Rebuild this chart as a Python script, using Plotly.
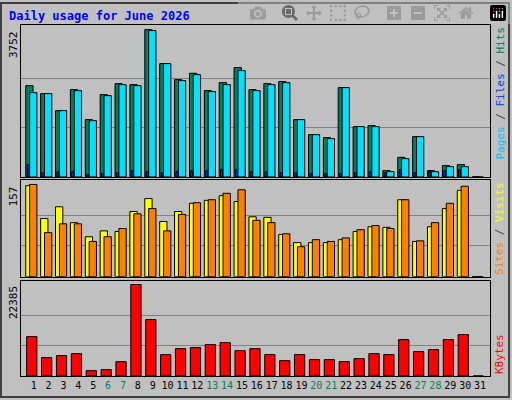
import plotly.graph_objs as go

days = list(range(1, 32))
hits = [2325, 2122, 1689, 2224, 1460, 2096, 2376, 2351, 3752, 2886, 2478, 2640, 2198, 2402, 2784, 2224, 2376, 2428, 1460, 1078, 1002, 2275, 1282, 1307, 161, 501, 1027, 161, 289, 314, 0]
files = [2147, 2122, 1689, 2198, 1434, 2071, 2351, 2325, 3727, 2886, 2453, 2606, 2173, 2351, 2708, 2198, 2351, 2402, 1460, 1078, 976, 2275, 1282, 1282, 136, 467, 1027, 136, 263, 263, 0]
pages = [314, 110, 136, 136, 59, 85, 110, 161, 136, 110, 136, 161, 161, 187, 187, 136, 136, 110, 110, 85, 85, 85, 110, 136, 110, 187, 110, 161, 161, 187, 0]
sites = [155, 99, 119, 92, 68, 78, 77, 111, 133, 94, 111, 125, 130, 138, 128, 102, 101, 72, 58, 58, 58, 63, 77, 85, 84, 131, 60, 85, 116, 147, 0]
visits = [157, 75, 90, 90, 60, 68, 82, 107, 116, 78, 106, 126, 131, 142, 148, 96, 92, 73, 51, 63, 60, 66, 80, 87, 82, 131, 61, 92, 125, 154, 0]
kbytes = [9641, 4493, 4984, 5474, 1307, 1552, 3513, 22385, 13807, 5229, 6700, 6945, 7680, 8170, 6209, 6700, 5229, 3758, 5229, 4003, 4003, 3513, 4248, 5474, 5229, 8905, 5964, 6454, 8905, 10131, 0]
weekend = [6, 7, 13, 14, 20, 21, 27, 28]

mono = "DejaVu Sans Mono"
edge = dict(color="black", width=1)

fig = go.Figure()
fig.add_trace(go.Bar(x=days, y=hits, offset=-0.53, width=0.49, marker=dict(color="#008060", line=edge), xaxis="x", yaxis="y"))
fig.add_trace(go.Bar(x=days, y=files, offset=-0.27, width=0.49, marker=dict(color="#00E0FF", line=edge), xaxis="x", yaxis="y"))
fig.add_trace(go.Bar(x=days, y=pages, offset=-0.44, width=0.13, marker=dict(color="#0040FF", line=edge), xaxis="x", yaxis="y"))
fig.add_trace(go.Bar(x=days, y=sites, offset=-0.53, width=0.49, marker=dict(color="#FFFF00", line=edge), xaxis="x2", yaxis="y2"))
fig.add_trace(go.Bar(x=days, y=visits, offset=-0.27, width=0.49, marker=dict(color="#FF8000", line=edge), xaxis="x2", yaxis="y2"))
fig.add_trace(go.Bar(x=days, y=kbytes, offset=-0.47, width=0.69, marker=dict(color="#FF0000", line=edge), xaxis="x3", yaxis="y3"))

ticktext = ["<span style='color:#00805C'>%d</span>" % d if d in weekend else str(d) for d in days]
xcommon = dict(range=[0.15, 31.67], showline=True, linecolor="black", linewidth=1, mirror=True,
               showgrid=False, zeroline=False, fixedrange=True)
ycommon = dict(showline=True, linecolor="black", linewidth=1, mirror=True, showticklabels=False,
               ticks="", gridcolor="#808080", gridwidth=1, zeroline=False)

fig.update_layout(
    width=512, height=400, barmode="overlay", showlegend=False,
    paper_bgcolor="#C0C0C0", plot_bgcolor="#C0C0C0",
    margin=dict(l=21, r=22, t=25, b=24, autoexpand=False),
    font=dict(family=mono, size=11, color="black"),
    xaxis=dict(xcommon, anchor="y", showticklabels=False),
    xaxis2=dict(xcommon, anchor="y2", showticklabels=False),
    xaxis3=dict(xcommon, anchor="y3", tickvals=days, ticktext=ticktext, ticks="", tickangle=0,
                tickfont=dict(size=10)),
    yaxis=dict(ycommon, domain=[0.567, 1], range=[0, 3869], tickvals=[1251, 2501]),
    yaxis2=dict(ycommon, domain=[0.283, 0.557], range=[0, 163.8], tickvals=[52.3, 104.7]),
    yaxis3=dict(ycommon, domain=[0, 0.272], range=[0, 23365], tickvals=[7462, 14923]),
    shapes=[dict(type="rect", xref="paper", yref="paper", x0=-20 / 469, x1=488 / 469,
                 y0=-21 / 351, y1=373 / 351, line=dict(color="#404040", width=2), layer="below")],
    annotations=[
        dict(text="<b>Daily usage for June 2026</b>", xref="paper", yref="paper", x=-14 / 469, y=360 / 351,
             xanchor="left", yanchor="middle", showarrow=False, font=dict(color="#0000FF", size=12)),
        dict(text="3752", xref="paper", yref="y", x=-8 / 469, y=3752, textangle=-90,
             xanchor="center", yanchor="top", showarrow=False),
        dict(text="157", xref="paper", yref="y2", x=-8 / 469, y=157, textangle=-90,
             xanchor="center", yanchor="top", showarrow=False),
        dict(text="22385", xref="paper", yref="y3", x=-8 / 469, y=22385, textangle=-90,
             xanchor="center", yanchor="top", showarrow=False),
        dict(text="<span style='color:#00C0FF'>Pages</span> / <span style='color:#0040FF'>Files</span> / <span style='color:#00805C'>Hits</span>",
             xref="paper", yref="y", x=479 / 469, y=3869, textangle=-90, xanchor="center", yanchor="top",
             showarrow=False, font=dict(color="#404040")),
        dict(text="<span style='color:#FF8000'>Sites</span> / <span style='color:#FFFF00'>Visits</span>",
             xref="paper", yref="y2", x=479 / 469, y=163.8, textangle=-90, xanchor="center", yanchor="top",
             showarrow=False, font=dict(color="#404040")),
        dict(text="KBytes", xref="paper", yref="y3", x=479 / 469, y=0, textangle=-90, xanchor="center",
             yanchor="bottom", showarrow=False, font=dict(color="#FF0000")),
    ],
)

fig.write_html("out.html", post_script="document.body.style.margin='0';")
